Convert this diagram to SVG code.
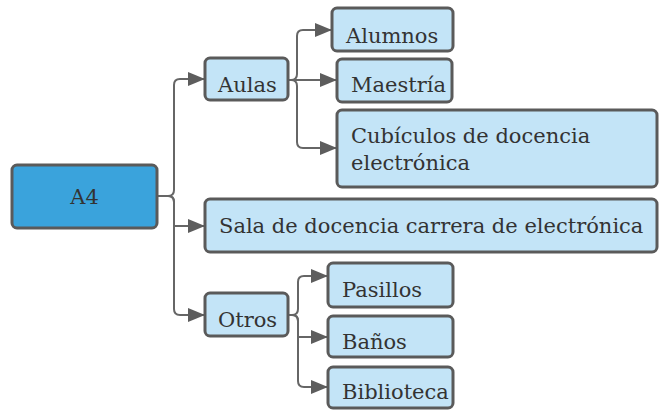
<svg xmlns="http://www.w3.org/2000/svg" width="662" height="410" viewBox="0 0 662 410">
<style>
.box{fill:#c3e4f7;stroke:#5a5a5a;stroke-width:3}
.root{fill:#3aa3dc;stroke:#5a5a5a;stroke-width:3}
.t{font-family:"DejaVu Serif","Liberation Serif",serif;font-size:21px;fill:#333}
.c{fill:none;stroke:#666;stroke-width:2}
</style>
<defs>
<marker id="ah" markerUnits="userSpaceOnUse" markerWidth="18" markerHeight="14" refX="17" refY="7" orient="auto">
<path d="M0,0 L17,7 L0,14 Z" fill="#5d5d5d"/>
</marker>
</defs>
<g id="connectors">
<path class="c" marker-end="url(#ah)" d="M157,196 H168 Q174,196 174,190 V85 Q174,79 180,79 H205"/>
<path class="c" marker-end="url(#ah)" d="M157,196 H168 Q174,196 174,202 V226 H205"/>
<path class="c" marker-end="url(#ah)" d="M157,196 H168 Q174,196 174,202 V309 Q174,315 180,315 H205"/>
<path class="c" marker-end="url(#ah)" d="M288,80 H291 Q297,80 297,74 V36 Q297,30 303,30 H332"/>
<path class="c" marker-end="url(#ah)" d="M288,80 H337"/>
<path class="c" marker-end="url(#ah)" d="M288,80 H291 Q297,80 297,86 V142 Q297,148 303,148 H337"/>
<path class="c" marker-end="url(#ah)" d="M288,315 H292 Q298,315 298,309 V282 Q298,276 304,276 H328"/>
<path class="c" marker-end="url(#ah)" d="M288,315 H292 Q298,315 298,321 V337 H328"/>
<path class="c" marker-end="url(#ah)" d="M288,315 H292 Q298,315 298,321 V381 Q298,387 304,387 H328"/>
</g>
<g id="n-a4"><rect class="root" x="12" y="165" width="145" height="63" rx="5"/><text class="t" x="84.5" y="204" text-anchor="middle">A4</text></g>
<g id="n-aulas"><rect class="box" x="205" y="58" width="83" height="42" rx="5"/><text class="t" x="218" y="92">Aulas</text></g>
<g id="n-alumnos"><rect class="box" x="332" y="8" width="121" height="43" rx="5"/><text class="t" x="346" y="43">Alumnos</text></g>
<g id="n-maestria"><rect class="box" x="337" y="59" width="115" height="43" rx="5"/><text class="t" x="351" y="92">Maestría</text></g>
<g id="n-cubiculos"><rect class="box" x="337" y="110" width="320" height="77" rx="5"/><text class="t" x="351" y="143">Cubículos de docencia</text><text class="t" x="351" y="170">electrónica</text></g>
<g id="n-sala"><rect class="box" x="205" y="199" width="452" height="53" rx="5"/><text class="t" x="219" y="233">Sala de docencia carrera de electrónica</text></g>
<g id="n-otros"><rect class="box" x="205" y="293" width="83" height="43" rx="5"/><text class="t" x="218" y="327">Otros</text></g>
<g id="n-pasillos"><rect class="box" x="328" y="263" width="125" height="44" rx="5"/><text class="t" x="342" y="297">Pasillos</text></g>
<g id="n-banos"><rect class="box" x="328" y="316" width="125" height="41" rx="5"/><text class="t" x="342" y="349">Baños</text></g>
<g id="n-biblioteca"><rect class="box" x="328" y="367" width="125" height="41" rx="5"/><text class="t" x="342" y="399">Biblioteca</text></g>
</svg>
